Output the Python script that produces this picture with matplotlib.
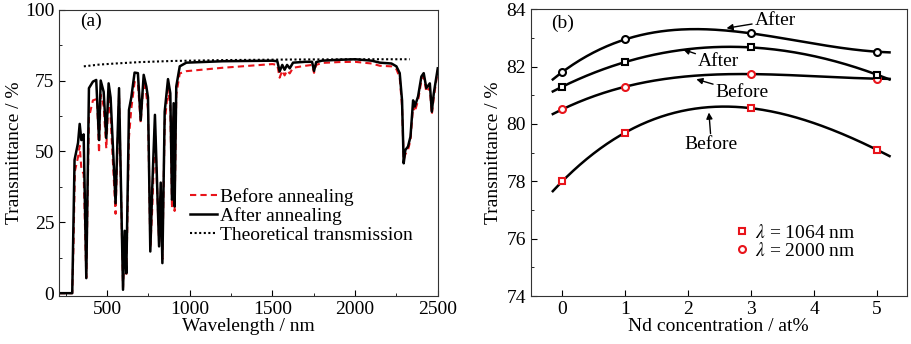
import numpy as np
import matplotlib
matplotlib.use('Agg')
import matplotlib.pyplot as plt
from matplotlib.ticker import MultipleLocator

plt.rcParams['font.family'] = ['Liberation Serif', 'DejaVu Serif']
plt.rcParams['mathtext.fontset'] = 'stix'
plt.rcParams['font.size'] = 14

# (a) 透射光谱，读图估计值
after_wl = [210, 290, 296, 304, 325, 335, 345, 359, 375, 391, 415, 435, 452, 462, 480, 496, 510, 522,
            552, 573, 597, 607, 617, 633, 647, 667, 687, 704, 722, 738, 748, 762, 774, 790, 815, 825,
            835, 849, 869, 883, 893, 903, 909, 919, 940, 980, 1200, 1500, 1530, 1544, 1560, 1574, 1589,
            1605, 1625, 1700, 1740, 1752, 1765, 1800, 1900, 2000, 2100, 2150, 2220, 2250, 2270, 2284,
            2294, 2304, 2320, 2335, 2351, 2361, 2381, 2401, 2415, 2431, 2452, 2464, 2476, 2500]
after_T = [0, 0, 20, 47, 53, 59.7, 54, 56, 5.3, 72.3, 74.6, 75.2, 54, 75, 71, 54.7, 74, 69,
           31.7, 72.3, 1.2, 22, 7, 64.6, 69, 77.8, 77.6, 61, 77, 72.9, 69, 14.7, 37.6, 62.9, 16.5, 39,
           10.6, 64, 75.5, 70.5, 33, 67, 30.6, 72.9, 80, 81.3, 81.8, 82, 81.8, 78.2, 80.5, 78.8, 80.5,
           79.3, 81.3, 81.6, 81.6, 78.4, 81.5, 82, 82.3, 82.5, 82, 81.3, 81, 80, 77.6, 68,
           45.8, 50.5, 51.7, 55.2, 68, 65.8, 69.4, 76.4, 77.6, 72.3, 74, 64, 70.5, 79.3]

before_wl = [210, 290, 298, 306, 325, 335, 345, 359, 375, 391, 415, 440, 452, 462, 480, 496, 510, 522,
             552, 573, 597, 607, 617, 633, 647, 667, 687, 704, 722, 738, 748, 762, 774, 790, 815, 825,
             835, 849, 869, 883, 893, 903, 909, 919, 940, 980, 1200, 1500, 1530, 1544, 1560, 1574, 1589,
             1605, 1625, 1700, 1740, 1752, 1765, 1800, 1900, 2000, 2100, 2150, 2220, 2250, 2270, 2284,
             2294, 2304, 2320, 2335, 2351, 2361, 2381, 2401, 2415, 2431, 2452, 2464, 2476, 2500]
before_T = [0, 0, 18, 43, 48, 52, 44, 42, 5.5, 62, 68, 68.5, 49.5, 70, 66, 51, 70, 62,
            28, 70, 2, 18, 6, 55, 65, 74.5, 74, 60, 75, 70, 65, 16, 30, 58, 18, 35,
            12, 60, 72, 66, 30, 63, 29, 70, 77.5, 78.3, 79.5, 80.8, 80.5, 76, 78.5, 76.8, 78.5,
            77.5, 79.5, 80.2, 80.5, 77.7, 80.5, 81.2, 81.5, 81.6, 81, 80.2, 80, 79, 76, 66,
            47, 49, 50.5, 54, 66, 64, 68, 75, 76.5, 71, 72.5, 63, 69, 78.5]

theory_wl = [360, 450, 550, 700, 900, 1200, 1600, 2000, 2330]
theory_T = [80.0, 80.6, 81.0, 81.5, 81.9, 82.2, 82.4, 82.5, 82.5]

# (b) Nd 浓度
nd = [0, 1, 3, 5]
sq_before = [78.0, 79.7, 80.55, 79.1]    # 1064 nm
sq_after = [81.3, 82.16, 82.67, 81.72]
ci_before = [80.51, 81.3, 81.74, 81.58]  # 2000 nm
ci_after = [81.81, 82.95, 83.16, 82.52]

fig = plt.figure(figsize=(9.12, 3.44), dpi=100)
ax1 = fig.add_axes([0.0647, 0.1395, 0.4153, 0.8325])
ax2 = fig.add_axes([0.582, 0.1395, 0.412, 0.8335])

ax1.plot(before_wl, before_T, color='#e8141b', ls=(0, (3, 2)), lw=1.5, label='Before annealing')
ax1.plot(after_wl, after_T, color='black', lw=1.8, label='After annealing')
ax1.plot(theory_wl, theory_T, color='black', ls=(0, (1, 1.2)), lw=1.5, label='Theoretical transmission')
ax1.set_xlim(210, 2500)
ax1.set_ylim(-1, 100)
ax1.xaxis.set_major_locator(MultipleLocator(500))
ax1.xaxis.set_minor_locator(MultipleLocator(250))
ax1.yaxis.set_major_locator(MultipleLocator(25))
ax1.yaxis.set_minor_locator(MultipleLocator(12.5))
ax1.set_xlabel('Wavelength / nm', labelpad=0)
ax1.set_ylabel('Transmittance / %', labelpad=1)
ax1.text(335, 95.8, '(a)', va='center', ha='left')
ax1.legend(loc='upper left', bbox_to_anchor=(0.32, 0.41), frameon=False, handlelength=1.4,
           handletextpad=0.15, labelspacing=0.05, borderpad=0)

xf = np.linspace(-0.15, 5.2, 200)
for yv in [sq_before, sq_after, ci_before, ci_after]:
    c = np.polyfit(nd, yv, 3)
    ax2.plot(xf, np.polyval(c, xf), color='black', lw=1.8)

ms = 5
ax2.plot(nd, sq_before, 's', mfc='white', mec='#e8141b', mew=1.5, ms=ms, label=r'$\lambda$ = 1064 nm')
ax2.plot(nd, ci_before, 'o', mfc='white', mec='#e8141b', mew=1.5, ms=ms, label=r'$\lambda$ = 2000 nm')
ax2.plot(nd, sq_after, 's', mfc='white', mec='black', mew=1.5, ms=ms)
ax2.plot(nd, ci_after, 'o', mfc='white', mec='black', mew=1.5, ms=ms)
ax2.set_xlim(-0.5, 5.47)
ax2.set_ylim(74, 84)
ax2.xaxis.set_major_locator(MultipleLocator(1))
ax2.yaxis.set_major_locator(MultipleLocator(2))
ax2.yaxis.set_minor_locator(MultipleLocator(1))
ax2.set_xlabel('Nd concentration / at%', labelpad=0)
ax2.set_ylabel('Transmittance / %', labelpad=3)
ax2.text(-0.17, 83.5, '(b)', va='center', ha='left')

ap = dict(arrowstyle='-|>', color='black', lw=1, mutation_scale=9, shrinkA=0, shrinkB=0)
ax2.annotate('After', xy=(2.61, 83.34), xytext=(3.06, 83.62), va='center', ha='left', arrowprops=ap)
ax2.annotate('After', xy=(1.92, 82.6), xytext=(2.16, 82.17), va='center', ha='left', arrowprops=ap)
ax2.annotate('Before', xy=(2.13, 81.56), xytext=(2.44, 81.09), va='center', ha='left', arrowprops=ap)
ax2.annotate('Before', xy=(2.33, 80.4), xytext=(2.37, 79.27), va='center', ha='center', arrowprops=ap)
ax2.legend(loc='upper left', bbox_to_anchor=(0.515, 0.285), frameon=False, handlelength=0.8,
           handletextpad=0.3, labelspacing=0.0, borderpad=0)

for ax in (ax1, ax2):
    ax.tick_params(which='both', direction='in', top=False, right=False)
    ax.tick_params(which='major', length=4)
    ax.tick_params(which='minor', length=2.5)
    for s in ax.spines.values():
        s.set_color('#333333')

fig.savefig('out.png', dpi=100)
